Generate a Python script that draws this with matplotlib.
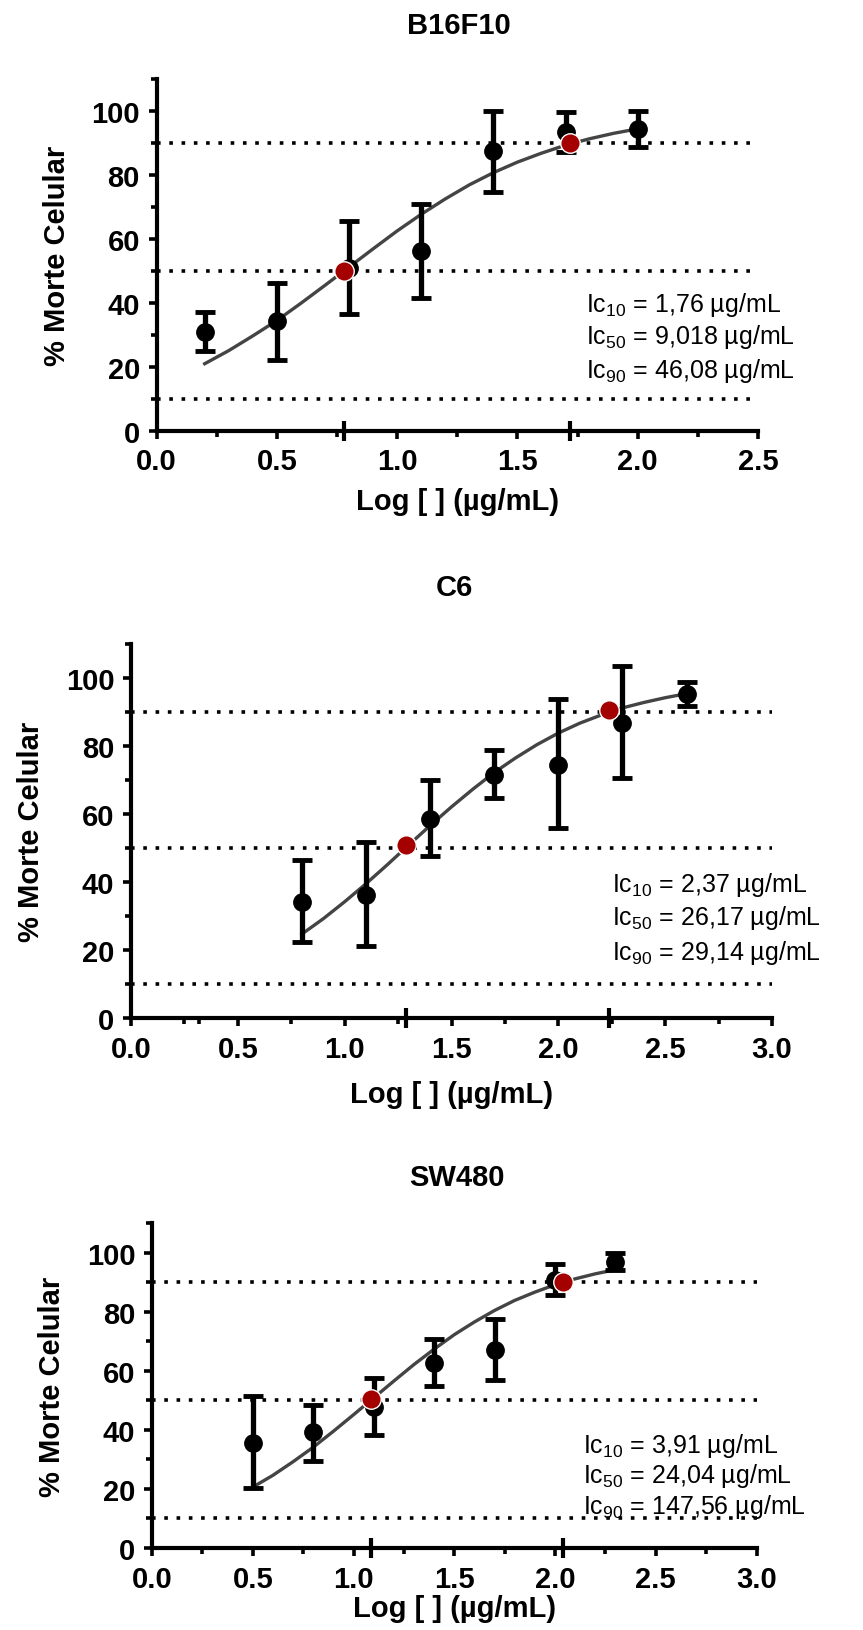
import numpy as np
import matplotlib.pyplot as plt
from matplotlib.ticker import MultipleLocator, FixedLocator

plt.rcParams['font.family'] = ['Liberation Sans', 'DejaVu Sans']
plt.rcParams['mathtext.fontset'] = 'custom'
plt.rcParams['mathtext.rm'] = 'Liberation Sans'
plt.rcParams['mathtext.default'] = 'regular'

# ---- data ----
titles = ['B16F10', 'C6', 'SW480']

# B16F10
b16_x = [0.2, 0.5, 0.8, 1.1, 1.4, 1.7, 2.0]
b16_y = [30.7, 34.1, 50.8, 56.0, 87.3, 93.3, 94.4]
b16_lo = [24.8, 22.2, 36.5, 41.5, 74.6, 87.0, 88.7]
b16_hi = [37.0, 46.2, 65.4, 70.9, 100.0, 99.5, 99.8]
b16_fit_x = [0.2, 0.3, 0.4, 0.5, 0.6, 0.7, 0.8, 0.9, 1.0, 1.1, 1.2, 1.3, 1.4, 1.5, 1.6, 1.7, 1.8, 1.9, 2.0]
b16_fit_y = [20.9, 25.0, 29.6, 34.4, 39.8, 45.4, 51.1, 56.8, 62.4, 67.6, 72.4, 76.8, 80.6, 83.9, 86.7, 89.2, 91.2, 92.9, 94.3]
b16_ic_x = [0.78, 1.72]
b16_ic_y = [50, 90]
b16_ic_txt = ['1,76', '9,018', '46,08']

# C6
c6_x = [0.8, 1.1, 1.4, 1.7, 2.0, 2.3, 2.6]
c6_y = [34.2, 36.3, 58.6, 71.6, 74.5, 86.8, 95.3]
c6_lo = [22.4, 21.1, 47.7, 64.7, 56.0, 70.5, 91.9]
c6_hi = [46.5, 51.8, 70.0, 78.9, 93.7, 103.5, 98.9]
c6_fit_x = [0.8, 0.9, 1.0, 1.1, 1.2, 1.3, 1.4, 1.5, 1.6, 1.7, 1.8, 1.9, 2.0, 2.1, 2.2, 2.3, 2.4, 2.5, 2.6]
c6_fit_y = [24.7, 29.2, 34.2, 39.5, 45.1, 50.9, 56.6, 62.1, 67.3, 72.2, 76.5, 80.4, 83.8, 86.7, 89.1, 91.2, 92.8, 94.2, 95.4]
c6_ic_x = [1.285, 2.235]
c6_ic_y = [51.0, 90.7]
c6_ic_txt = ['2,37', '26,17', '29,14']

# SW480
sw_x = [0.5, 0.8, 1.1, 1.4, 1.7, 2.0, 2.3]
sw_y = [35.6, 39.1, 47.7, 62.6, 67.0, 90.8, 96.9]
sw_lo = [20.3, 29.5, 38.3, 54.7, 56.8, 85.5, 94.0]
sw_hi = [51.5, 48.5, 57.7, 70.9, 77.6, 96.1, 100.0]
sw_fit_x = [0.5, 0.6, 0.7, 0.8, 0.9, 1.0, 1.1, 1.2, 1.3, 1.4, 1.5, 1.6, 1.7, 1.8, 1.9, 2.0, 2.1, 2.2, 2.3]
sw_fit_y = [20.6, 24.6, 29.2, 34.1, 39.5, 45.1, 50.8, 56.5, 62.1, 67.3, 72.2, 76.5, 80.4, 83.8, 86.6, 89.1, 91.1, 92.8, 94.2]
sw_ic_x = [1.086, 2.04]
sw_ic_y = [50.6, 90.2]
sw_ic_txt = ['3,91', '24,04', '147,56']

ref_levels = [10, 50, 90]
ic_names = ['10', '50', '90']

# ---- layout (pixels) ----
W, H = 863, 1631
rects = [(156.6, 79.6, 758, 431.6), (131, 645, 772, 1019), (152, 1224, 756.5, 1549)]
xmaxs = [2.5, 3.0, 3.0]
title_pos = [(459, 26), (454, 588), (456.5, 1178)]
xlab_off = [70, 76, 60]
txt_x = [586, 612, 583]
txt_y = [[305, 337, 371], [885, 918, 953], [1446, 1476, 1507]]
extra_minor = [[], [0.32], []]

panels = [
    (b16_x, b16_y, b16_lo, b16_hi, b16_fit_x, b16_fit_y, b16_ic_x, b16_ic_y, b16_ic_txt),
    (c6_x, c6_y, c6_lo, c6_hi, c6_fit_x, c6_fit_y, c6_ic_x, c6_ic_y, c6_ic_txt),
    (sw_x, sw_y, sw_lo, sw_hi, sw_fit_x, sw_fit_y, sw_ic_x, sw_ic_y, sw_ic_txt),
]

fig = plt.figure(figsize=(W / 100, H / 100), dpi=100)

for i, (x, y, lo, hi, fx, fy, icx, icy, ictxt) in enumerate(panels):
    l, t, r, b = rects[i]
    ax = fig.add_axes([l / W, 1 - b / H, (r - l) / W, (b - t) / H])
    x = np.array(x); y = np.array(y)
    yerr = [y - np.array(lo), np.array(hi) - y]

    for lv in ref_levels:
        ax.axhline(lv, color='black', lw=2.6, ls=(0, (1, 2.4)), zorder=1)

    ax.plot(fx, fy, color='#444444', lw=2.4, zorder=2)
    ax.errorbar(x, y, yerr=yerr, fmt='o', color='black', ms=12.5, elinewidth=3.8,
                capsize=7, capthick=3.5, zorder=3)
    ax.plot(icx, icy, 'o', color='#a50000', ms=14, mec='white', mew=1.0, zorder=5)
    # tall markers on the x axis at the IC positions
    ax.plot(icx, [0] * len(icx), '|', color='black', ms=14, mew=3, clip_on=False, zorder=6)

    ax.set_xlim(0, xmaxs[i])
    ax.set_ylim(0, 110)
    ax.set_yticks([0, 20, 40, 60, 80, 100])
    ax.yaxis.set_minor_locator(MultipleLocator(10))
    ax.xaxis.set_major_locator(MultipleLocator(0.5))
    minors = list(np.arange(0.25, xmaxs[i], 0.5)) + extra_minor[i]
    ax.xaxis.set_minor_locator(FixedLocator(minors))
    ax.xaxis.set_major_formatter(plt.FormatStrFormatter('%.1f'))

    for s in ['top', 'right']:
        ax.spines[s].set_visible(False)
    for s in ['left', 'bottom']:
        ax.spines[s].set_linewidth(3)
        ax.spines[s].set_zorder(4)
    ax.tick_params(which='major', length=6, width=2.6, pad=6, labelsize=21)
    ax.tick_params(which='minor', length=4, width=2.6)
    for lab in ax.get_xticklabels() + ax.get_yticklabels():
        lab.set_fontweight('bold')

    ax.set_xlabel('Log [ ] (µg/mL)', fontsize=21, fontweight='bold')
    ax.set_ylabel('% Morte Celular', fontsize=21, fontweight='bold')
    bh = b - t
    bw = r - l
    ax.xaxis.set_label_coords(0.5, -xlab_off[i] / bh)
    ax.xaxis.label.set_verticalalignment('center')
    ax.yaxis.set_label_coords(-100 / bw, 0.5)
    ax.yaxis.label.set_verticalalignment('center')

    tx, ty = title_pos[i]
    fig.text(tx / W, 1 - ty / H, titles[i], ha='center', va='center',
             fontsize=21, fontweight='bold')

    for k in range(3):
        fig.text(txt_x[i] / W, 1 - txt_y[i][k] / H,
                 'Ic$_{%s}$ = %s µg/mL' % (ic_names[k], ictxt[k]),
                 ha='left', va='center', fontsize=18)

fig.savefig('out.png', dpi=100)
